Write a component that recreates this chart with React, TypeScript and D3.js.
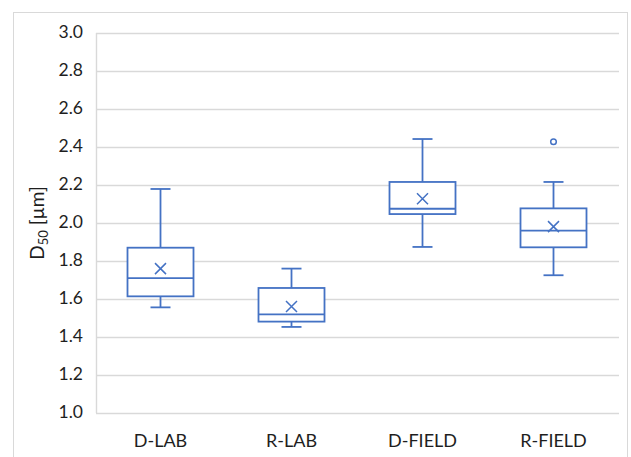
import React, { useEffect, useRef } from 'react';
import { select, scaleLinear, scaleBand, range } from 'd3';

// values
const categories = ['D-LAB', 'R-LAB', 'D-FIELD', 'R-FIELD'];
const whiskerLow = [1.556, 1.453, 1.874, 1.725];
const q1 = [1.614, 1.481, 2.047, 1.872];
const median = [1.71, 1.519, 2.075, 1.96];
const q3 = [1.87, 1.658, 2.216, 2.077];
const whiskerHigh = [2.179, 1.76, 2.442, 2.216];
const mean = [1.76, 1.561, 2.128, 1.981];
const outliers = [[], [], [], [2.428]];
const yTicks = [1.0, 1.2, 1.4, 1.6, 1.8, 2.0, 2.2, 2.4, 2.6, 2.8, 3.0];

const blue = '#4472c4';
const grid = '#d9d9d9';
const ink = '#1e1e1e';
const font = 'Lato, "Open Sans", sans-serif';

const App = () => {
  const ref = useRef(null);

  useEffect(() => {
    const svg = select(ref.current);
    svg.selectAll('*').remove();

    const margin = { top: 33, right: 12, bottom: 44, left: 96 };
    const width = 631;
    const height = 457;

    const x = scaleBand().domain(categories).range([95, width - margin.right]);
    const y = scaleLinear().domain([1, 3]).range([height - margin.bottom, margin.top]);

    // outer frame
    svg.append('rect')
      .attr('x', 13.5).attr('y', 12.5)
      .attr('width', 614).attr('height', 470)
      .attr('fill', 'white').attr('stroke', grid).attr('stroke-width', 1);

    // grid
    svg.append('g')
      .selectAll('line')
      .data(yTicks)
      .enter()
      .append('line')
        .attr('x1', margin.left).attr('x2', width - margin.right)
        .attr('y1', d => Math.round(y(d)) + 0.5).attr('y2', d => Math.round(y(d)) + 0.5)
        .attr('stroke', grid).attr('stroke-width', 1.4);

    svg.append('line')
      .attr('x1', margin.left + 0.5).attr('x2', margin.left + 0.5)
      .attr('y1', y(3)).attr('y2', y(1))
      .attr('stroke', grid).attr('stroke-width', 1.4);

    svg.append('g')
      .selectAll('text')
      .data(yTicks)
      .enter()
      .append('text')
        .attr('x', 83)
        .attr('y', d => y(d) + 1)
        .attr('text-anchor', 'end')
        .attr('dominant-baseline', 'middle')
        .attr('font-family', font).attr('font-size', 17.5).attr('fill', ink)
        .text(d => d.toFixed(1));

    svg.append('g')
      .selectAll('text')
      .data(categories)
      .enter()
      .append('text')
        .attr('x', d => x(d) + x.bandwidth() / 2)
        .attr('y', 447)
        .attr('text-anchor', 'middle')
        .attr('font-family', font).attr('font-size', 18).attr('fill', ink)
        .text(d => d);

    const title = svg.append('text')
      .attr('transform', `translate(44,${(y(1) + y(3)) / 2}) rotate(-90)`)
      .attr('text-anchor', 'middle')
      .attr('font-family', font).attr('font-size', 19).attr('fill', ink);
    title.append('tspan').text('D');
    title.append('tspan').attr('font-size', 13).attr('dy', 4).text('50');
    title.append('tspan').attr('dy', -4).text(' [µm]');

    const boxW = 66;
    const capW = 20;
    const g = svg.append('g')
      .attr('stroke', blue).attr('stroke-width', 1.8).attr('fill', 'none');

    range(categories.length).forEach(i => {
      const cx = x(categories[i]) + x.bandwidth() / 2;
      const b = g.append('g');
      b.append('line').attr('x1', cx).attr('x2', cx).attr('y1', y(q3[i])).attr('y2', y(whiskerHigh[i]));
      b.append('line').attr('x1', cx).attr('x2', cx).attr('y1', y(q1[i])).attr('y2', y(whiskerLow[i]));
      b.append('line').attr('x1', cx - capW / 2).attr('x2', cx + capW / 2).attr('y1', y(whiskerHigh[i])).attr('y2', y(whiskerHigh[i]));
      b.append('line').attr('x1', cx - capW / 2).attr('x2', cx + capW / 2).attr('y1', y(whiskerLow[i])).attr('y2', y(whiskerLow[i]));
      b.append('rect')
        .attr('x', cx - boxW / 2).attr('y', y(q3[i]))
        .attr('width', boxW).attr('height', y(q1[i]) - y(q3[i]))
        .attr('fill', 'white');
      b.append('line').attr('x1', cx - boxW / 2).attr('x2', cx + boxW / 2).attr('y1', y(median[i])).attr('y2', y(median[i]));
      const m = y(mean[i]);
      const s = 5.5;
      b.append('path')
        .attr('d', `M${cx - s},${m - s}L${cx + s},${m + s}M${cx - s},${m + s}L${cx + s},${m - s}`)
        .attr('stroke-width', 1.5);
      outliers[i].forEach(v => {
        b.append('circle').attr('cx', cx).attr('cy', y(v)).attr('r', 2.8).attr('stroke-width', 1.5);
      });
    });
  }, []);

  return (
    <svg ref={ref} width="631" height="457" style={{ position: 'absolute', left: 0, top: 0, background: 'white' }}></svg>
  );
};

export default App;
